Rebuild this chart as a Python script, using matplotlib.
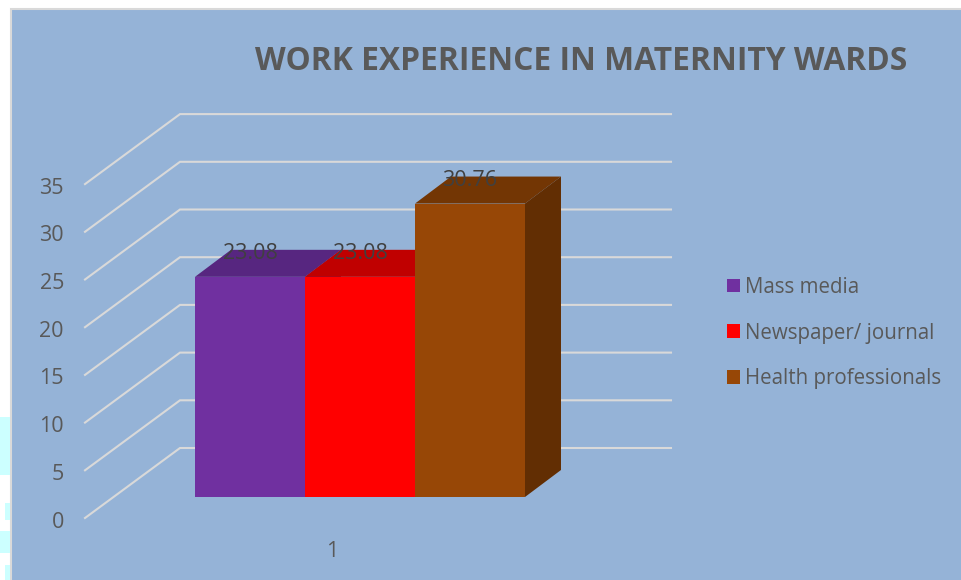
import matplotlib
matplotlib.use('Agg')
import matplotlib.pyplot as plt
from matplotlib.patches import Polygon, Rectangle

series = ['Mass media', 'Newspaper/ journal', 'Health professionals']
values = [23.08, 23.08, 30.76]
labels = ['23.08', '23.08', '30.76']
yticks = [0, 5, 10, 15, 20, 25, 30, 35]
category = '1'

front = ['#7030A0', '#FF0000', '#974706']
top = ['#572680', '#C00000', '#733604']
side = ['#572680', '#C00000', '#622E03']
panel = '#95B3D7'
gridc = '#D9D9D9'
textc = '#595959'

plt.rcParams['font.family'] = ['Open Sans', 'DejaVu Sans']

W, H = 962, 580
fig = plt.figure(figsize=(W / 100, H / 100), dpi=100, facecolor='white')
ax = fig.add_axes([0, 0, 1, 1])

# one bar = 110 px wide, one y unit = 9.54 px, bars start at px 195, zero at px 497
xu, yu = 110.0, 9.54
ax.set_xlim(-195 / xu, (W - 195) / xu)
ax.set_ylim(-(H - 497) / yu, 497 / yu)
ax.axis('off')
pxx = lambda p: (p - 195) / xu
pxy = lambda p: (497 - p) / yu

ax.add_patch(Rectangle((pxx(11), pxy(H + 5)), (W + 10) / xu, (H - 4) / yu, fc=panel, ec='#D9D9D9', lw=1.5, zorder=0))

# pale scan marks left of the panel
for x0, y0, y1 in [(0, 417, 475), (5, 503, 520), (0, 531, 553), (5, 565, 580)]:
    ax.add_patch(Rectangle((pxx(x0), pxy(y1)), (10 - x0) / xu, (y1 - y0) / yu, fc='#CCFFFF', ec='none', zorder=0))

# walls: floor front corner -> back corner -> right end
fx, fy = pxx(85), pxy(518)
bx, by = pxx(180), pxy(448)
ex = pxx(671)
for t in yticks:
    ax.plot([fx, bx, ex], [fy + t, by + t, by + t], color=gridc, lw=1.5, zorder=1, solid_joinstyle='miter')
    ax.text(pxx(64), fy + t - 1.5 / yu, str(t), color=textc, fontsize=15.5, ha='right', va='center_baseline', zorder=5)

# bars with their depth
dx, dy = 36 / xu, 27 / yu
for i, v in enumerate(values):
    ax.add_patch(Polygon([(i, v), (i + 1, v), (i + 1 + dx, v + dy), (i + dx, v + dy)], fc=top[i], ec='none', zorder=2 + i))
    ax.add_patch(Polygon([(i + 1, 0), (i + 1 + dx, dy), (i + 1 + dx, v + dy), (i + 1, v)], fc=side[i], ec='none', zorder=2 + i))
    ax.bar(i + 0.5, v, width=1, color=front[i], label=series[i], zorder=2 + i)
    ax.text(i + 0.5, v + 26 / yu, labels[i], color='#404040', fontsize=15.5, ha='center', va='center_baseline', zorder=6)

ax.text(pxx(332), pxy(549), category, color=textc, fontsize=15.5, ha='center', va='center_baseline')
ax.text(pxx(581), pxy(58), 'WORK EXPERIENCE IN MATERNITY WARDS', color=textc, fontsize=22.9, fontweight='bold', ha='center', va='center_baseline')

leg = ax.legend(loc='center left', bbox_to_anchor=(727 / W, 1 - 333 / H), bbox_transform=fig.transFigure,
                frameon=False, fontsize=14.8, labelcolor=textc, handlelength=0.65, handleheight=0.65,
                handletextpad=0.25, labelspacing=1.2, borderpad=0, borderaxespad=0)

fig.savefig('out.png', dpi=100, facecolor='white')
